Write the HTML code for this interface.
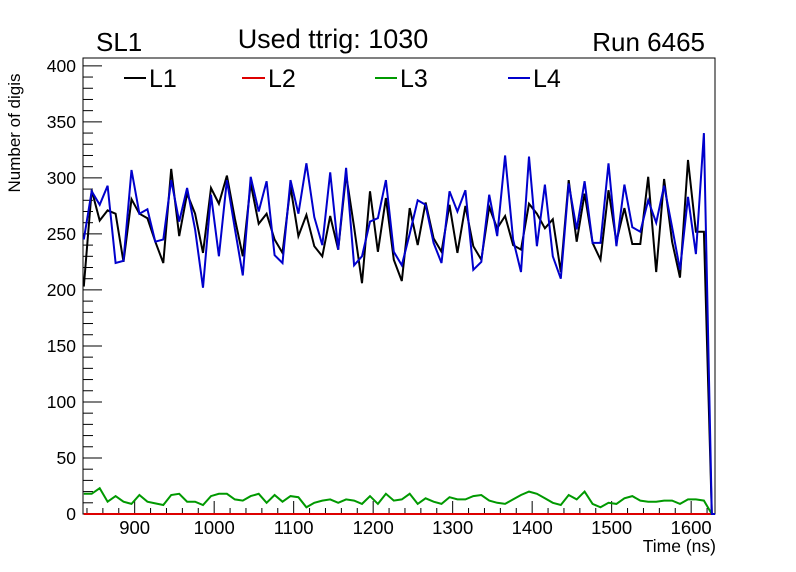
<!DOCTYPE html>
<html><head><meta charset="utf-8"><style>
html,body{margin:0;padding:0;background:#fff;}
svg{display:block;font-family:"Liberation Sans",Arial,sans-serif;}
</style></head><body>
<svg id="chart" width="796" height="572" viewBox="0 0 796 572" xmlns="http://www.w3.org/2000/svg">
<defs><clipPath id="clip"><rect x="83" y="40" width="632" height="475"/></clipPath></defs>
<rect x="0" y="0" width="796" height="572" fill="#fff"/>
<text x="96" y="51" font-size="26">SL1</text>
<text x="333" y="48" font-size="27" text-anchor="middle">Used ttrig: 1030</text>
<text x="705" y="51" font-size="26" text-anchor="end">Run 6465</text>
<g id="plot"></g>
<text transform="translate(20,133) rotate(-90)" font-size="17" text-anchor="middle">Number of digis</text>
<text x="716" y="552" font-size="17.5" text-anchor="end">Time (ns)</text>
<g>
<line x1="124" y1="78" x2="146" y2="78" stroke="#000" stroke-width="2"/><text x="149" y="87" font-size="25">L1</text>
<line x1="242" y1="78" x2="265" y2="78" stroke="#d00" stroke-width="2"/><text x="268" y="87" font-size="25">L2</text>
<line x1="375" y1="78" x2="397" y2="78" stroke="#090" stroke-width="2"/><text x="400" y="87" font-size="25">L3</text>
<line x1="508" y1="78" x2="530" y2="78" stroke="#00c" stroke-width="2"/><text x="533" y="87" font-size="25">L4</text>
</g>
</svg>
<script>
const timeStart = 836, timeStep = 10;
const seriesL1 = [203,289,262,271,268,225,281,268,264,243,224,308,248,286,268,233,291,277,302,264,230,295,259,268,245,233,292,248,267,239,230,266,236,303,256,206,288,234,282,227,208,273,
240,278,246,234,276,233,275,239,227,274,255,266,240,236,277,268,255,263,216,298,243,286,242,227,289,243,273,241,241,301,216,299,243,211,316,252,252,0,0];
const seriesL4 = [245,288,276,293,224,226,307,268,272,243,245,298,261,291,254,202,285,230,298,255,213,301,270,297,231,224,298,268,313,265,240,305,236,309,222,230,261,264,298,234,222,250,
280,276,242,224,288,270,289,218,225,285,248,320,245,216,319,239,294,230,210,295,254,297,242,242,313,239,294,256,252,280,260,293,256,218,283,232,340,0,0];
const seriesL3 = [18,18,23,11,16,11,9,17,11,9.5,8,17,18,11,11,8,16,18,18,13,12,16,18,10,17,11,16,15,6,10,12,13,10,13,12,9,16,9,18,12,13,18,
9,14,11,9,15,13,13,16,17,12,10,9,13,17,20,18,14,10,8,17,13,20,9,6,10,9,14,16,12,11,11,12,12,9,13,13,12,0,0];
const seriesL2 = seriesL1.map(()=>0);
const xTicks = [900,1000,1100,1200,1300,1400,1500,1600];
const yTicks = [0,50,100,150,200,250,300,350,400];

const X0=83,X1=715,Y0=514,Y1=58, XMIN=835, XMAX=1630, YMAX=407;
const sx = v => X0 + (v-XMIN)/(XMAX-XMIN)*(X1-X0);
const sy = v => Y0 - v/YMAX*(Y0-Y1);
const NS="http://www.w3.org/2000/svg";
const g=document.getElementById('plot');
function mk(t,a,parent){const e=document.createElementNS(NS,t);for(const k in a)e.setAttribute(k,a[k]);(parent||g).appendChild(e);return e;}

const frame=mk('rect',{x:X0,y:Y1,width:X1-X0,height:Y0-Y1,fill:'none',stroke:'#000','stroke-width':1});



for(let v=0;v<=YMAX;v+=10){
  const major=v%50===0;
  const t=mk('line',{x1:X0,x2:X0+(major?19:10),y1:sy(v),y2:sy(v),stroke:'#000','stroke-width':1});
  
  
}
yTicks.forEach(v=>{
  const t=mk('text',{x:76,y:sy(v)+6,'font-size':17.5,'text-anchor':'end'});
  t.textContent=v;
  
  
});
for(let v=840;v<=XMAX;v+=20){
  const major=v%100===0;
  const t=mk('line',{x1:sx(v),x2:sx(v),y1:Y0,y2:Y0-(major?13:6),stroke:'#000','stroke-width':1});
  
  
}
xTicks.forEach(v=>{
  const t=mk('text',{x:sx(v),y:534,'font-size':18.5,'text-anchor':'middle'});
  t.textContent=v;
  
  
});

const sg=mk('g',{'clip-path':'url(#clip)'});


function series(arr,color,name){
  const pts=arr.map((v,i)=>sx(timeStart+i*timeStep).toFixed(1)+','+sy(v).toFixed(1)).join(' ');
  const p=mk('polyline',{points:pts,fill:'none',stroke:color,'stroke-width':2,'stroke-linejoin':'miter'},sg);
  
  
}
series(seriesL1,'#000','series-l1');
series(seriesL2,'#d00','series-l2');
series(seriesL3,'#090','series-l3');
series(seriesL4,'#00c','series-l4');
</script>
</body></html>
